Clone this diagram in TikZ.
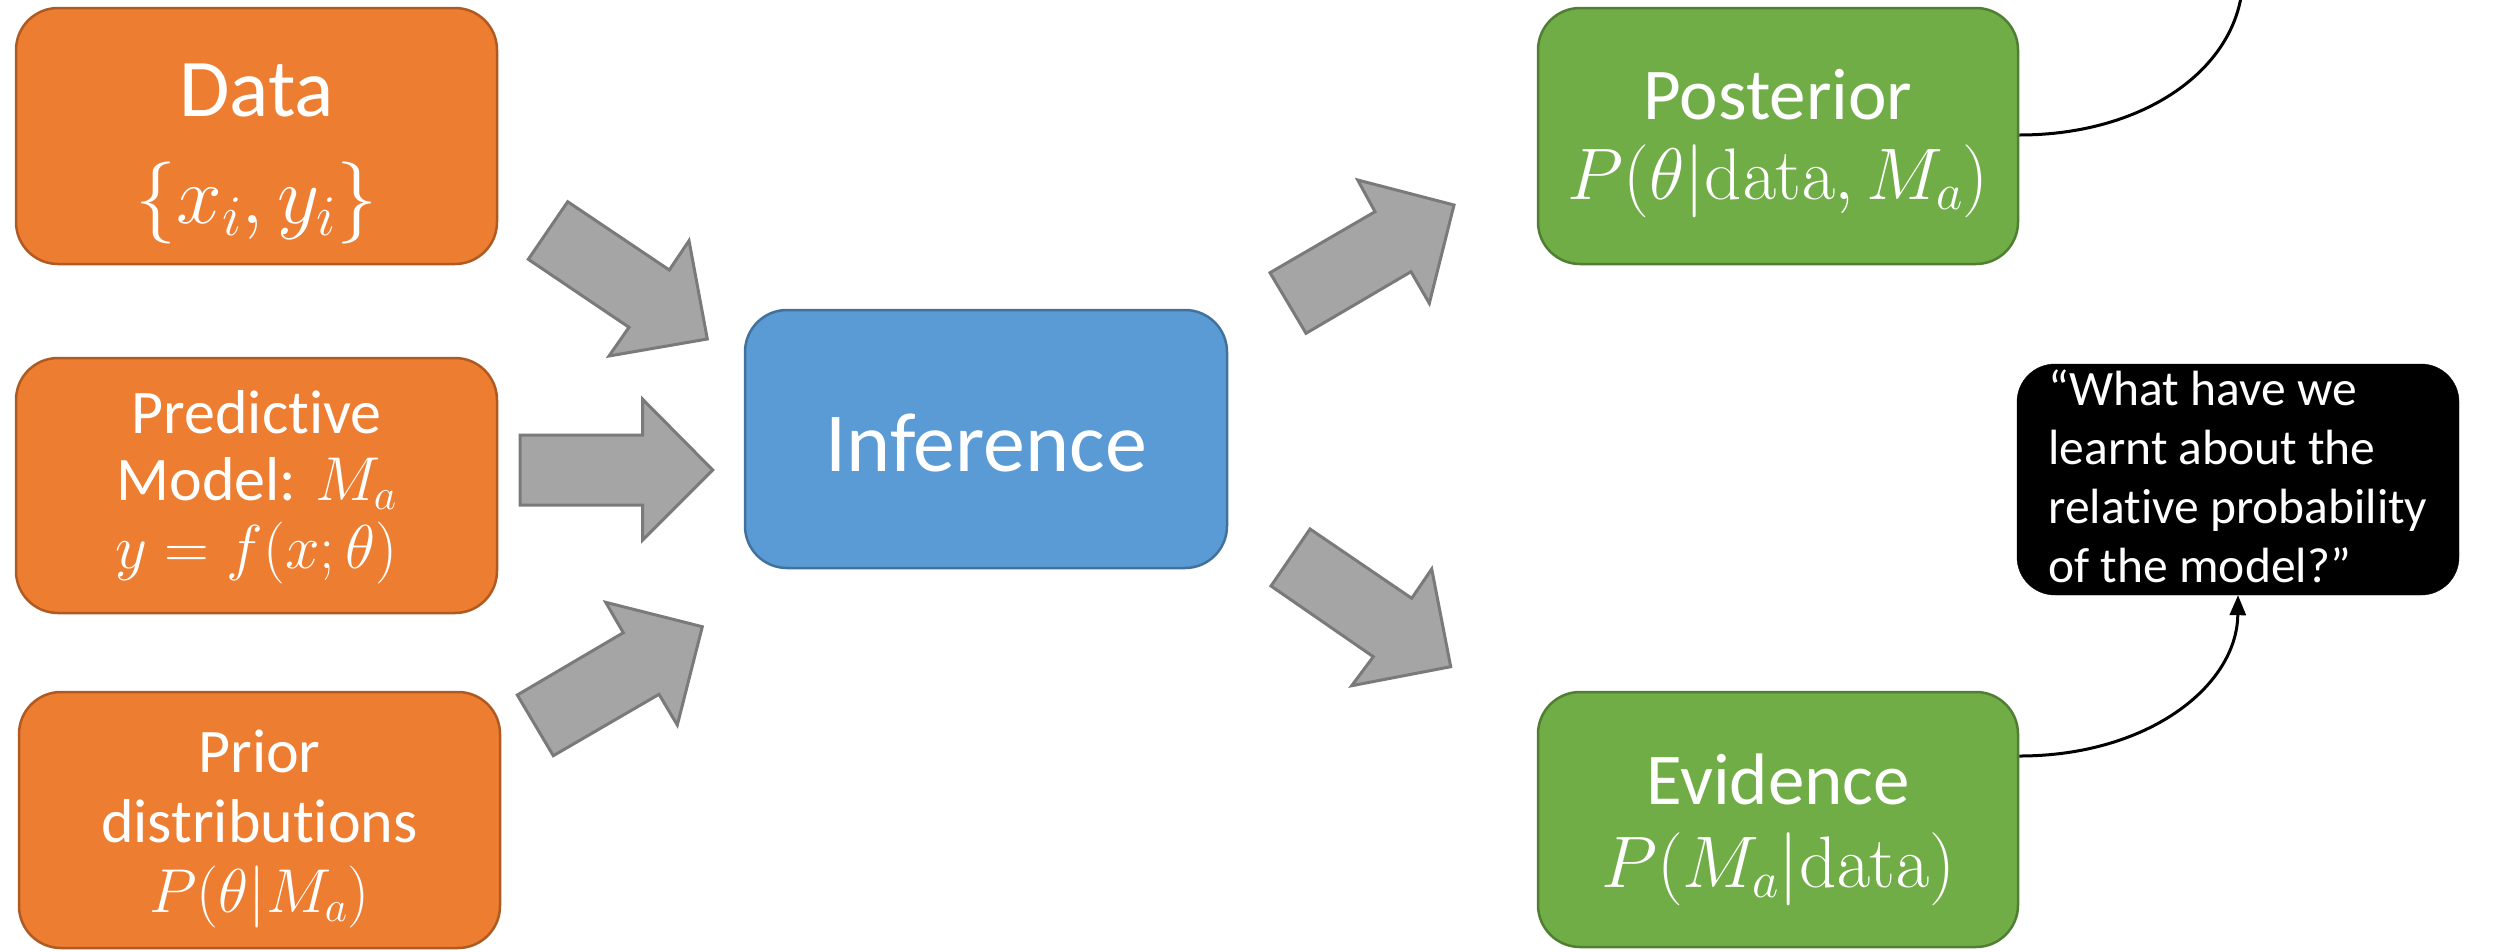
\RequirePackage{fix-cm}
\documentclass[tikz,border=0pt]{standalone}
\usepackage[no-math]{fontspec}
\setmainfont{Carlito}[Ligatures={TeX,NoCommon}]
\usetikzlibrary{arrows.meta}
\definecolor{orgfill}{HTML}{ED7D31}
\definecolor{orgline}{HTML}{AE5A21}
\definecolor{bluefill}{HTML}{5B9BD5}
\definecolor{blueline}{HTML}{41719C}
\definecolor{grnfill}{HTML}{70AD47}
\definecolor{grnline}{HTML}{507E32}
\definecolor{arrfill}{HTML}{A5A5A5}
\definecolor{arrline}{HTML}{7A7A7A}
\begin{document}
\begin{tikzpicture}[x=1pt,y=-1pt,
  box/.style={line width=2.5pt, rounded corners=42pt, minimum width=481pt,
    minimum height=256pt, inner sep=0pt, align=center, text=white, text depth=0pt},
  orangebox/.style={box, fill=orgfill, draw=orgline},
  bluebox/.style={box, fill=bluefill, draw=blueline},
  greenbox/.style={box, fill=grnfill, draw=grnline},
  blockarrow/.style={fill=arrfill, draw=arrline, line width=3pt, line join=miter},
  conn/.style={draw=black, line width=3pt},
  callout/.style={fill=black, draw=black, rounded corners=38pt, minimum width=442pt,
    minimum height=231pt, inner sep=0pt, align=left, text=white, text depth=0pt}
]
\useasboundingbox (0,0) rectangle (2496,951);

% input boxes
\node[orangebox, text height=174pt, font=\fontsize{82}{107}\selectfont] (data) at (256.5,136)
  {Data\\ $\{x_i, y_i\}$};
\node[orangebox, minimum height=255pt, text height=165pt, font=\fontsize{62}{67.5}\selectfont] (model) at (256.5,485.5)
  {Predictive\\ Model: $M_a$\\ $y = f(x;\theta)$};
\node[orangebox, text height=184pt, font=\fontsize{62}{70}\selectfont] (prior) at (259.5,820)
  {Prior\\ distributions\\ $P(\theta|M_a)$};

% inference
\node[bluebox, minimum width=482pt, minimum height=258pt, text height=64pt, font=\fontsize{84}{100}\selectfont] (inf) at (986,439)
  {Inference};

% outputs
\node[greenbox, minimum width=480pt, text height=126pt, font=\fontsize{73}{80}\selectfont] (post) at (1778,136)
  {Posterior\\ $P(\theta|\mathrm{data}, M_a)$};
\node[greenbox, minimum width=480pt, minimum height=255pt, text height=135pt, font=\fontsize{73}{83}\selectfont] (evid) at (1778,819.5)
  {Evidence\\ $P(M_a|\mathrm{data})$};

% callout
\node[callout, text height=205pt, font=\fontsize{49.5}{59}\selectfont] (call) at (2238,479.5)
  {“What have we\\ learnt about the\\ relative probability\\ of the model?”};

% block arrows
\draw[blockarrow] (567.7,201.7) -- (669.3,270) -- (689,240.7) -- (707.3,339) -- (609,356) -- (629,327.3) -- (528.3,259.3) -- cycle;
\draw[blockarrow] (520,435) -- (642.7,435) -- (642.7,399.3) -- (712.7,470) -- (642.7,540) -- (642.7,505) -- (520,505) -- cycle;
\draw[blockarrow] (517.3,695) -- (623.3,632.7) -- (605.7,602.3) -- (702.3,626.7) -- (677.3,725) -- (659,694.3) -- (553.3,755.7) -- cycle;
\draw[blockarrow] (1270,272.7) -- (1375,211.7) -- (1357.7,180) -- (1454,205) -- (1429.3,303.3) -- (1411,271.7) -- (1306,333.3) -- cycle;
\draw[blockarrow] (1310,529) -- (1411.7,598.3) -- (1431.7,569) -- (1450.7,666.7) -- (1351.7,685.7) -- (1373.3,656.7) -- (1271,586) -- cycle;

% curved connectors
\coordinate (topend) at (2243,-25);
\draw[conn] ([yshift=1pt]post.east) .. controls (2148,135) and (2243,65) .. (topend);
\draw[conn, -{Triangle[length=20pt,width=16pt]}] ([yshift=63.5pt]evid.east) .. controls (2148,756) and (2237,686) .. (call.south);
\end{tikzpicture}
\end{document}
